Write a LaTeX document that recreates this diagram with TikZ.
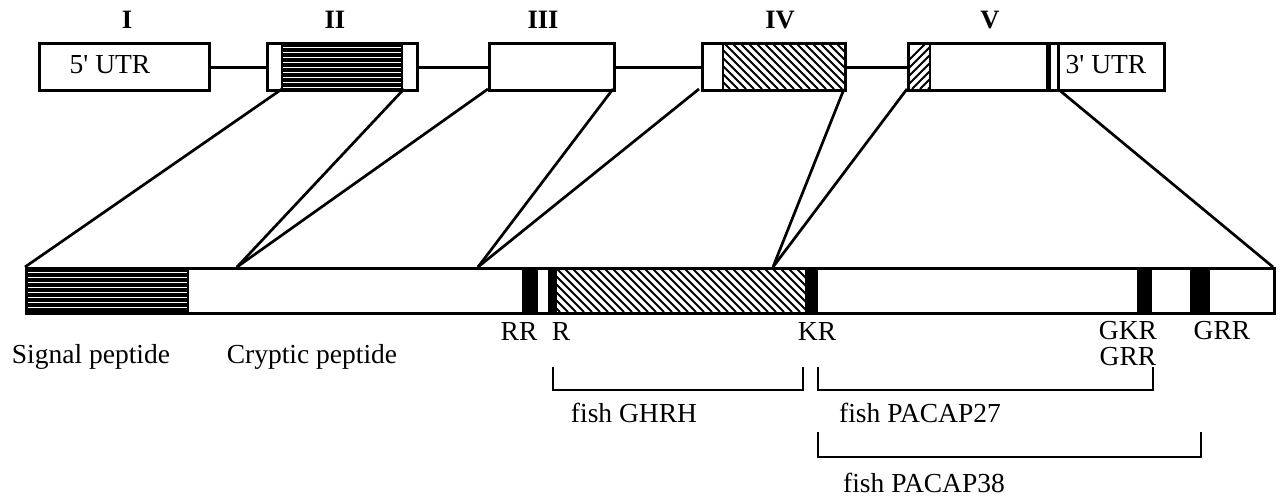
\documentclass[tikz,border=0pt]{standalone}
\usepackage{fontspec}
\setmainfont{Liberation Serif}
\begin{document}
\begin{tikzpicture}[x=1pt,y=-1pt]
\tikzset{
  box/.style={draw, line width=3pt, inner sep=0pt, anchor=north west},
  divider/.style={line width=2.5pt},
  link/.style={line width=2.7pt},
  intron/.style={line width=3pt},
  hatchline/.style={line width=2pt},
  hline/.style={line width=3.3pt},
  bracket/.style={line width=2pt},
  lbl/.style={font=\fontsize{27.5}{30}\selectfont, inner sep=0pt},
  exlbl/.style={font=\bfseries\fontsize{26.5}{30}\selectfont, inner sep=0pt},
}
\useasboundingbox (0,0) rectangle (1280,501);

% ---------- hatching inside the exons ----------
% exon II: horizontal lines
\begin{scope}
  \clip (282,43) rectangle (402,88);
  \foreach \y in {45,50,...,90} \draw[hline] (282,\y) -- (402,\y);
\end{scope}
% exon IV: back-slash hatching
\begin{scope}
  \clip (723,43) rectangle (844,88);
  \foreach \x in {660,668,...,850} \draw[hatchline] (\x,43) -- ++(46,46);
\end{scope}
% exon V: forward-slash hatching
\begin{scope}
  \clip (907,43) rectangle (930,88);
  \foreach \x in {880,888,...,940} \draw[hatchline] (\x,89) -- ++(46,-46);
\end{scope}

% ---------- hatching and cleavage sites in the precursor ----------
\begin{scope}
  \clip (25,268) rectangle (188,311);
  \foreach \y in {270,275,...,312} \draw[hline] (25,\y) -- (188,\y);
\end{scope}
\begin{scope}
  \clip (557,268) rectangle (805,311);
  \foreach \x in {500,508,...,810} \draw[hatchline] (\x,268) -- ++(44,44);
\end{scope}
\fill (522,267) rectangle (538,312);
\fill (548,267) rectangle (557,312);
\fill (805,267) rectangle (818,312);
\fill (1137,267) rectangle (1152,312);
\fill (1190,267) rectangle (1210,312);

% ---------- exons ----------
\node[box, minimum width=170pt, minimum height=47pt] (ex1) at (38,42) {};
\node[box, minimum width=150pt, minimum height=47pt] (ex2) at (266,42) {};
\node[box, minimum width=125pt, minimum height=47pt] (ex3) at (488,42) {};
\node[box, minimum width=143pt, minimum height=47pt] (ex4) at (701,42) {};
\node[box, minimum width=256pt, minimum height=47pt] (ex5) at (907,42) {};

\draw[divider] (282,42) -- (282,89);
\draw[divider] (402,42) -- (402,89);
\draw[divider] (723,42) -- (723,89);
\draw[divider] (930,42) -- (930,89);
\draw[line width=5pt] (1048,42) -- (1048,89);
\draw[line width=3pt] (1058,42) -- (1058,89);

% introns
\draw[intron] (ex1.east) -- (ex2.west);
\draw[intron] (ex2.east) -- (ex3.west);
\draw[intron] (ex3.east) -- (ex4.west);
\draw[intron] (ex4.east) -- (ex5.west);

% exon numbers and UTR labels
\node[exlbl] (nI)   at (127,20) {I};
\node[exlbl] (nII)  at (335,20) {II};
\node[exlbl] (nIII) at (543,20) {III};
\node[exlbl] (nIV)  at (780,20) {IV};
\node[exlbl] (nV)   at (990,20) {V};
\node[lbl] (utr5) at (110,65) {5\textquotesingle{} UTR};
\node[lbl] (utr3) at (1106,65) {3\textquotesingle{} UTR};

% ---------- precursor ----------
\node[box, minimum width=1248pt, minimum height=45pt] (pro) at (25,267) {};
\draw[divider] (188,267) -- (188,312);

% ---------- exon-to-precursor connectors ----------
\coordinate (a1) at (282,89);  \coordinate (b1) at (25,267);
\coordinate (a2) at (404,89);  \coordinate (a3) at (488,89);  \coordinate (b2) at (237,267);
\coordinate (a4) at (613,89);  \coordinate (a5) at (699,89);  \coordinate (b3) at (478,267);
\coordinate (a6) at (844,89);  \coordinate (a7) at (907,89);  \coordinate (b4) at (773,267);
\coordinate (a8) at (1058,89); \coordinate (b5) at (1273,267);
\draw[link] (a1) -- (b1);
\draw[link] (a2) -- (b2);
\draw[link] (a3) -- (b2);
\draw[link] (a4) -- (b3);
\draw[link] (a5) -- (b3);
\draw[link] (a6) -- (b4);
\draw[link] (a7) -- (b4);
\draw[link] (a8) -- (b5);

% ---------- labels under the precursor ----------
\node[lbl] (sig) at (91,357) {Signal peptide};
\node[lbl] (cry) at (312,357) {Cryptic peptide};
\node[lbl] (rr)  at (519,331) {RR};
\node[lbl] (r)   at (561,331) {R};
\node[lbl] (kr)  at (817,331) {KR};
\node[lbl] (gkr) at (1128,331) {GKR};
\node[lbl] (grr) at (1128,357) {GRR};
\node[lbl] (grr2) at (1222,331) {GRR};

% ---------- peptide brackets ----------
\coordinate (ghL) at (553,367); \coordinate (ghR) at (803,367);
\coordinate (p27L) at (818,367); \coordinate (p27R) at (1153,367);
\coordinate (p38L) at (818,432); \coordinate (p38R) at (1201,432);
\draw[bracket] (ghL) -- ++(0,23) -| (ghR);
\draw[bracket] (p27L) -- ++(0,23) -| (p27R);
\draw[bracket] (p38L) -- ++(0,25) -| (p38R);
\node[lbl] (ghrh) at (634,413) {fish GHRH};
\node[lbl] (pc27) at (920,413) {fish PACAP27};
\node[lbl] (pc38) at (924,483) {fish PACAP38};
\end{tikzpicture}
\end{document}
